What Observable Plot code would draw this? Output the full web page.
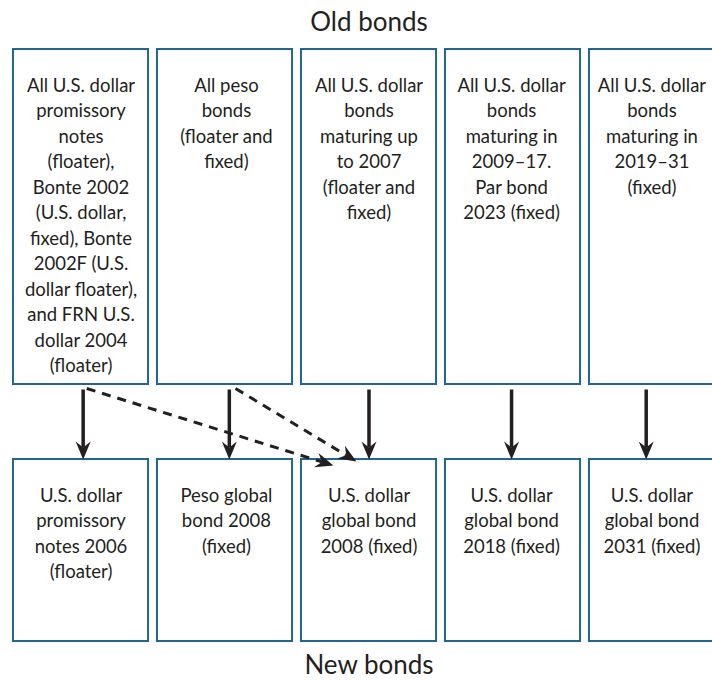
<!DOCTYPE html>
<html><head><meta charset="utf-8">
<script src="https://cdn.jsdelivr.net/npm/d3@7"></script>
<script src="https://cdn.jsdelivr.net/npm/@observablehq/plot@0.6"></script>
<style>body{margin:0;background:#fff;} svg{display:block;}</style>
</head><body><div id="chart"></div>
<script>
// ---- data ----
const columns = [0, 1, 2, 3, 4];
const oldBonds = [
  "All U.S. dollar\npromissory\nnotes\n(floater),\nBonte 2002\n(U.S. dollar,\nfixed), Bonte\n2002F (U.S.\ndollar floater),\nand FRN U.S.\ndollar 2004\n(floater)",
  "All peso\nbonds\n(floater and\nfixed)",
  "All U.S. dollar\nbonds\nmaturing up\nto 2007\n(floater and\nfixed)",
  "All U.S. dollar\nbonds\nmaturing in\n2009–17.\nPar bond\n2023 (fixed)",
  "All U.S. dollar\nbonds\nmaturing in\n2019–31\n(fixed)"
];
const newBonds = [
  "U.S. dollar\npromissory\nnotes 2006\n(floater)",
  "Peso global\nbond 2008\n(fixed)",
  "U.S. dollar\nglobal bond\n2008 (fixed)",
  "U.S. dollar\nglobal bond\n2018 (fixed)",
  "U.S. dollar\nglobal bond\n2031 (fixed)"
];
const solidFrom = [0, 1, 2, 3, 4];
const solidTo = [0, 1, 2, 3, 4];
const dashedFrom = [0, 1];
const dashedTo = [2, 2];
const titles = ["Old bonds", "New bonds"];

// ---- layout (not data) ----
const L = {
  oldTop: 49, oldBottom: 384, newTop: 459, newBottom: 641,
  half: 0.469, textOffset: 24,
  textShift: [0, 0.01, 0, -0.01, -0.035],
  arrowShift: [0.015, 0.03, 0, -0.01, -0.075],
  arrowStart: 389, dashStart: 388,
  dashStartShift: [0.04, 0.073], dashEndShift: [-0.247, -0.087], dashEndY: [465, 461],
  titleOld: 22, titleNew: 665
};
const ink = "#231f20", border = "#236591";
const font = "Lato, 'Open Sans', sans-serif";

const boxes = [
  ...columns.map(i => ({i, y1: L.oldTop, y2: L.oldBottom})),
  ...columns.map(i => ({i, y1: L.newTop, y2: L.newBottom}))
];
const arrows = [
  ...solidFrom.map((f, k) => ({x1: f + L.arrowShift[f], y1: L.arrowStart, x2: solidTo[k] + L.arrowShift[solidTo[k]], y2: L.newTop, dashed: false})),
  ...dashedFrom.map((f, k) => ({x1: f + L.dashStartShift[k], y1: L.dashStart, x2: dashedTo[k] + L.dashEndShift[k], y2: L.dashEndY[k], dashed: true}))
];

const xr = [8.5, 728.5];
const xs = d3.scaleLinear([-0.5, 4.5], xr);
function headSymbol(theta) {
  const pts = [[0, 0], [-18, -7.5], [-12, 0], [-18, 7.5]];
  const c = Math.cos(theta), s = Math.sin(theta);
  return {draw(ctx) {
    pts.forEach(([px, py], j) => {
      const X = px * c - py * s, Y = px * s + py * c;
      j ? ctx.lineTo(X, Y) : ctx.moveTo(X, Y);
    });
    ctx.closePath();
  }};
}
function shorten(a, len) {
  const dx = xs(a.x2) - xs(a.x1), dy = a.y2 - a.y1;
  const d = Math.hypot(dx, dy);
  return {...a, x2e: xs.invert(xs(a.x2) - dx / d * len), y2e: a.y2 - dy / d * len, theta: Math.atan2(dy, dx)};
}
const arrowsS = arrows.map(a => shorten(a, 12));

const textStyle = {lineAnchor: "top", lineHeight: 1.38, fontSize: 18.5, fill: ink, fontFamily: font};
const marks = [
  Plot.rect(boxes, {x1: d => d.i - L.half, x2: d => d.i + L.half, y1: "y1", y2: "y2", fill: "white", stroke: border, strokeWidth: 2}),
  Plot.text(oldBonds, {x: (d, i) => columns[i] + L.textShift[i], y: L.oldTop + L.textOffset, text: d => d, ...textStyle}),
  Plot.text(newBonds, {x: (d, i) => columns[i] + L.textShift[i], y: L.newTop + L.textOffset, text: d => d, ...textStyle}),
  Plot.text(titles, {x: 2, y: (d, i) => i ? L.titleNew : L.titleOld, text: d => d, fontSize: 26, fill: ink, fontFamily: font}),
  Plot.link(arrowsS.filter(a => !a.dashed), {x1: "x1", y1: "y1", x2: "x2e", y2: "y2e", stroke: ink, strokeWidth: 3.5}),
  Plot.link(arrowsS.filter(a => a.dashed), {x1: "x1", y1: "y1", x2: "x2e", y2: "y2e", stroke: ink, strokeWidth: 3, strokeDasharray: "9,7"}),
  ...arrowsS.map(a => Plot.dot([a], {x: "x2", y: "y2", symbol: headSymbol(a.theta), fill: ink, stroke: "none", r: 10}))
];

const chart = Plot.plot({
  width: 712, height: 681,
  marginTop: 0, marginRight: 0, marginBottom: 0, marginLeft: 0,
  x: {domain: [-0.5, 4.5], range: xr, axis: null},
  y: {domain: [0, 681], range: [0, 681], axis: null},
  style: {background: "white", fontFamily: font},
  marks
});
document.getElementById("chart").append(chart);
</script>
</body></html>
